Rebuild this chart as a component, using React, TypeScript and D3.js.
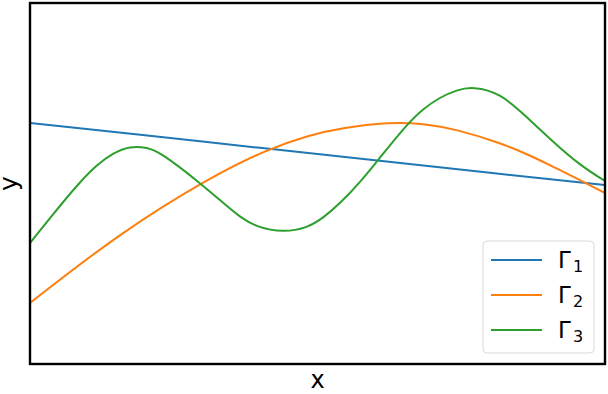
import React from "react";
import * as d3 from "d3";

// values (x in [0, 5])
const gamma1X = [0, 1, 2, 3, 4, 5];
const gamma1Y = [2.41, 2.29, 2.16, 2.04, 1.91, 1.79];

const gamma2X = [0, 0.78, 1.57, 2.07, 2.43, 2.7, 3.13, 3.42, 3.71, 4.09, 4.32, 4.55, 4.78, 5];
const gamma2Y = [0.61, 1.31, 1.87, 2.15, 2.29, 2.36, 2.42, 2.405, 2.347, 2.21, 2.1, 1.973, 1.84, 1.71];

const gamma3X = [
	0, 0.287, 0.435, 0.58, 0.72, 0.87, 1.02, 1.13, 1.48, 1.68, 1.83, 1.97, 2.2, 2.41, 2.55, 2.7, 2.88, 3.04,
	3.28, 3.42, 3.57, 3.71, 3.85, 4.09, 4.32, 4.55, 4.78, 5,
];
const gamma3Y = [
	1.21, 1.62, 1.82, 1.99, 2.11, 2.18, 2.165, 2.12, 1.81, 1.61, 1.465, 1.37, 1.315, 1.36, 1.46, 1.61, 1.83,
	2.06, 2.4, 2.555, 2.67, 2.74, 2.775, 2.71, 2.47, 2.22, 1.99, 1.83,
];

const seriesNames = ["1", "2", "3"];
const colors = ["#1f77b4", "#ff7f0e", "#2ca02c"];

const width = 608;
const height = 394;
const margin = { top: 3, right: 3, bottom: 30, left: 30 };

const App = () => {
	const x = d3
		.scaleLinear()
		.domain([0, 5])
		.range([margin.left, width - margin.right]);
	const y = d3
		.scaleLinear()
		.domain([0, 3.61])
		.range([height - margin.bottom, margin.top]);

	const line = d3
		.line<[number, number]>()
		.x((d) => x(d[0]))
		.y((d) => y(d[1]))
		.curve(d3.curveBasis);

	const series = [
		d3.zip(gamma1X, gamma1Y),
		d3.zip(gamma2X, gamma2Y),
		d3.zip(gamma3X, gamma3Y),
	] as [number, number][][];

	const plotW = width - margin.left - margin.right;
	const plotH = height - margin.top - margin.bottom;

	const font = "'DejaVu Sans', sans-serif";

	return (
		<svg
			width={width}
			height={height}
			style={{ position: "absolute", left: 0, top: 0, background: "#fff" }}
			fontFamily={font}
		>
			<defs>
				<clipPath id="plot-clip">
					<rect x={margin.left} y={margin.top} width={plotW} height={plotH} />
				</clipPath>
			</defs>
			<g clipPath="url(#plot-clip)">
				{series.map((s, i) => (
					<path key={i} d={line(s) || ""} fill="none" stroke={colors[i]} strokeWidth={2} />
				))}
			</g>
			<rect
				x={margin.left}
				y={margin.top}
				width={plotW}
				height={plotH}
				fill="none"
				stroke="#000"
				strokeWidth={2.4}
			/>

			{/* legend */}
			<g>
				<rect x={483} y={241} width={111} height={112} rx={4} fill="#fff" fillOpacity={0.8} stroke="#d9d9d9" />
				{seriesNames.map((name, i) => (
					<g key={name} transform={`translate(0,${i * 35})`}>
						<line x1={491} x2={542} y1={260} y2={260} stroke={colors[i]} strokeWidth={2} />
						<text x={558} y={268} fontSize={23}>
							Γ
						</text>
						<text x={573} y={272} fontSize={16}>
							{name}
						</text>
					</g>
				))}
			</g>

			<text x={(margin.left + width - margin.right) / 2} y={388} fontSize={24} textAnchor="middle">
				x
			</text>
			<text
				transform={`translate(17,${margin.top + plotH / 2}) rotate(-90)`}
				fontSize={25}
				textAnchor="middle"
			>
				y
			</text>
		</svg>
	);
};

export default App;
